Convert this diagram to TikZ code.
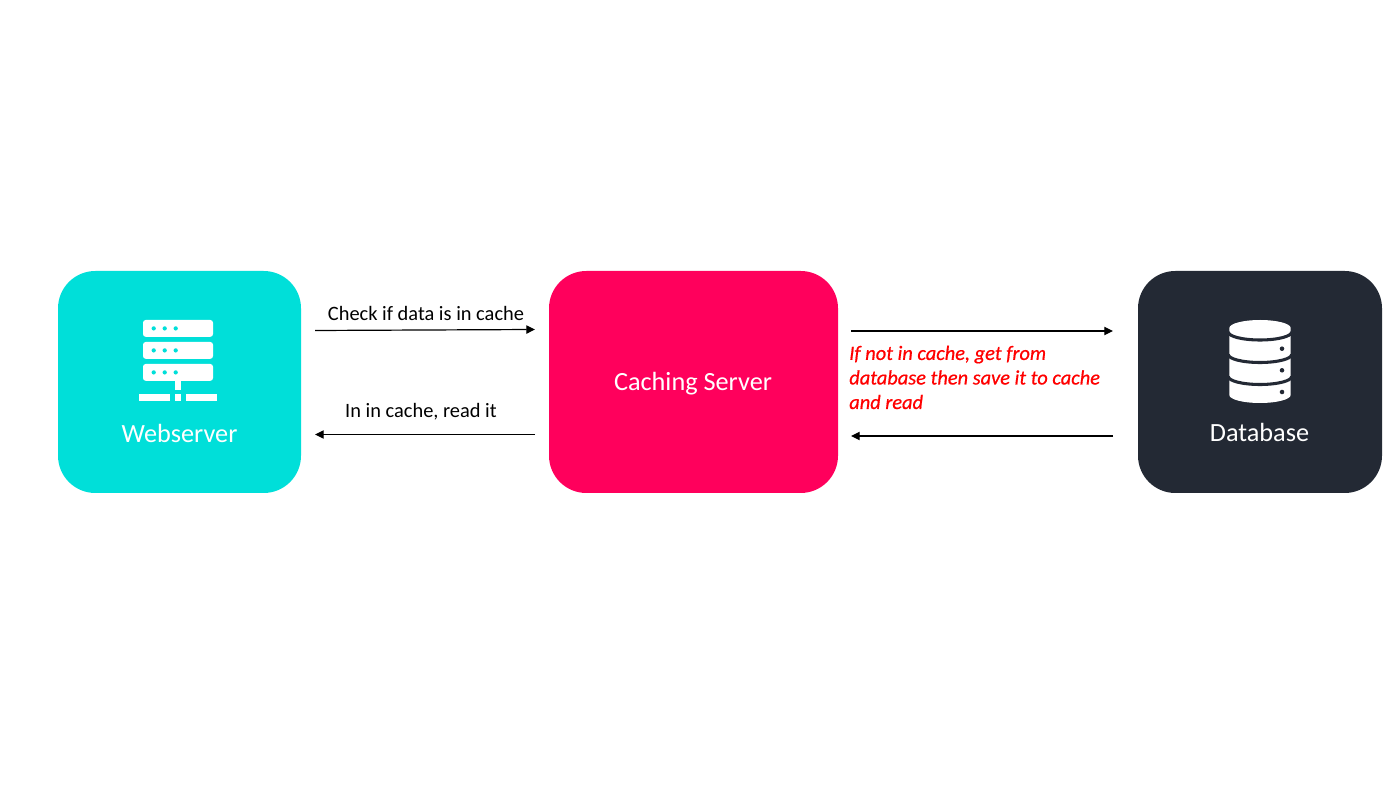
\documentclass[tikz,border=0pt]{standalone}
\usepackage{fontspec}
\setmainfont{Carlito}
\newfontfamily\redfont[ItalicFeatures={FakeBold=0.6}]{Carlito}
\usetikzlibrary{arrows.meta}
\definecolor{cteal}{HTML}{00DFD9}
\definecolor{cpink}{HTML}{FF005C}
\definecolor{cdark}{HTML}{232934}
\definecolor{cred}{HTML}{FF0000}
\tikzset{
  boxnode/.style={rounded corners=28pt,minimum height=166.5pt,inner sep=0pt,outer sep=0pt,draw=none},
  boxlabel/.style={text=white,font=\fontsize{19.7}{23}\selectfont,inner sep=0pt},
  arrowlabel/.style={text=black,font=\fontsize{15.3}{18}\selectfont,inner sep=0pt},
  conn/.style={draw=black,line width=0.9pt,-{Triangle[length=6.5pt,width=6.2pt]}},
  iconwhite/.style={fill=white,draw=none},
}
\begin{document}
\begin{tikzpicture}[x=0.75pt,y=-0.75pt]
\useasboundingbox[fill=white] (0,0) rectangle (1400,787);
% boxes
\node[boxnode,fill=cteal,minimum width=182.25pt] (web) at (179.5,382) {};
\node[boxnode,fill=cpink,minimum width=216.75pt] (cache) at (693.5,382) {};
\node[boxnode,fill=cdark,minimum width=183pt] (db) at (1260,382) {};
% labels
\node[boxlabel] (webl) at (179.5,433.5) {Webserver};
\node[boxlabel] (cachel) at (693,383.5) {Caching Server};
\node[boxlabel] (dbl) at (1259.5,432.5) {Database};
\node[arrowlabel,anchor=base] (t1) at (426,320.5) {Check if data is in cache};
\node[arrowlabel,anchor=base] (t2) at (421,418) {In in cache, read it};
\node[text=cred,font=\redfont\fontsize{15.3}{18.4}\selectfont\itshape,anchor=north west,align=left,inner sep=0pt] (t3) at (849,345.5) {If not in cache, get from\\database then save it to cache\\and read};
% connector ends
\coordinate (a1) at (315,330.5);
\coordinate (b1) at (535,329.5);
\coordinate (a2) at (535,434.5);
\coordinate (b2) at (315,434.5);
\coordinate (a3) at (851,331);
\coordinate (b3) at (1113,331);
\coordinate (a4) at (1113,436);
\coordinate (b4) at (851,436);
\draw[conn] (a1) -- (b1);
\draw[conn] (a2) -- (b2);
\draw[conn] (a3) -- (b3);
\draw[conn] (a4) -- (b4);
% server icon
\foreach \yy in {320,342,364}{
  \fill[iconwhite,rounded corners=2pt] (143,\yy) rectangle (213,\yy+16.8);
  \foreach \xx in {153.7,164.7,175.7}
    \fill[cteal] (\xx,\yy+8.4) circle[radius=1.6pt];
}
\fill[iconwhite] (175,380) rectangle (181,390);
\fill[iconwhite] (139,394.3) rectangle (170,401);
\fill[iconwhite] (175,394.3) rectangle (181,401);
\fill[iconwhite] (186,394.3) rectangle (217,401);
% database icon
\fill[iconwhite] (1229.3,328) -- (1229.3,395) arc[start angle=180,end angle=360,x radius=23pt,y radius=6pt] -- (1290.7,328) arc[start angle=0,end angle=180,x radius=23pt,y radius=6pt] -- cycle;
\foreach \yy in {332,354.5,376.5}{
  \draw[cdark,line width=2.3pt] (1228.3,\yy) arc[start angle=180,end angle=360,x radius=23.75pt,y radius=6pt];
}
\foreach \yy in {348.7,370.3,392}
  \fill[cdark] (1282,\yy) circle[radius=1.7pt];
\end{tikzpicture}
\end{document}
